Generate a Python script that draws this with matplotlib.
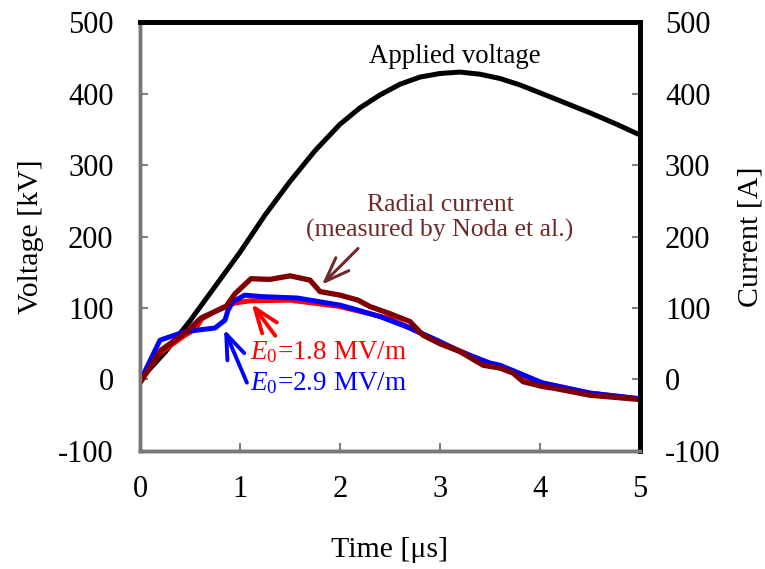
import matplotlib
matplotlib.use("Agg")
import matplotlib.pyplot as plt

plt.rcParams["font.family"] = ["Liberation Serif", "DejaVu Serif"]
plt.rcParams["mathtext.fontset"] = "custom"
plt.rcParams["mathtext.rm"] = "Liberation Serif"
plt.rcParams["mathtext.it"] = "Liberation Serif:italic"
plt.rcParams["axes.unicode_minus"] = False

# Applied voltage [kV]
t_volt = [0, 0.25, 0.5, 0.75, 1.0, 1.25, 1.5, 1.75, 2.0, 2.2, 2.4, 2.6, 2.8, 3.0, 3.2,
          3.4, 3.6, 3.8, 4.0, 4.25, 4.5, 4.75, 5.0]
volt = [0, 38, 82, 130, 178, 230, 277, 320, 357, 380, 398, 413, 423, 428, 430,
        427, 421, 412, 401, 387, 373, 358, 342]

# Radial current measured by Noda et al. [A]
t_meas = [0, 0.21, 0.45, 0.61, 0.78, 0.86, 0.95, 1.11, 1.3, 1.5, 1.7, 1.8, 2.0, 2.18, 2.3, 2.5, 2.7, 2.83,
          3.0, 3.2, 3.43, 3.6, 3.73, 3.83, 4.03, 4.13, 4.5, 4.75, 5.0]
meas = [-5, 41, 65, 86, 97, 102, 120, 141, 140, 145, 139, 123, 118, 111, 102, 92, 81, 62,
        50, 39, 20, 16, 9, -3, -10, -12, -22, -25, -28]

# Simulated current, E0 = 2.9 MV/m
t_e29 = [0, 0.2, 0.45, 0.75, 0.85, 0.88, 0.93, 1.05, 1.21, 1.57, 2.0, 2.18, 2.4, 2.7, 3.0, 3.2, 3.5, 3.6,
         4.03, 4.5, 5.0]
e29 = [-3, 55, 67, 72, 83, 97, 109, 118, 116, 114, 104, 97, 88, 72, 53, 39, 23, 20, -5, -19, -27]

# Simulated current, E0 = 1.8 MV/m
t_e18 = [0, 0.2, 0.45, 0.55, 0.62, 0.75, 0.85, 0.95, 1.1, 1.5, 2.0, 2.5, 3.0, 3.5, 4.0, 4.5, 5.0]
e18 = [-3, 37, 62, 70, 85, 95, 102, 107, 110, 111, 102, 85, 52, 22, -4, -19, -27]

fig = plt.figure(figsize=(7.65, 5.69), dpi=100)
ax = fig.add_axes([0.183, 0.2074, 0.6536, 0.7539])
ax2 = ax.twinx()

ax.plot(t_volt, volt, color="black", lw=3.6, zorder=3, solid_joinstyle="round")
ax2.plot(t_e18, e18, color="#ff0000", lw=3.6, solid_joinstyle="round")
ax2.plot(t_e29, e29, color="#0000ff", lw=3.6, solid_joinstyle="round")
ax2.plot(t_meas, meas, color="#800000", lw=3.8, solid_joinstyle="round")

for a in (ax, ax2):
    a.set_xlim(0, 5)
    a.set_ylim(-100, 500)
    a.set_yticks(range(-100, 501, 100))

ax.set_xticks(range(0, 6))
ax.tick_params(axis="both", direction="in", length=6, width=1.5, color="#808080",
               labelsize=22, pad=19)
ax.tick_params(axis="x", pad=17)
ax2.tick_params(axis="y", direction="in", length=6, width=1.5, color="#808080",
                labelsize=22, pad=18)

for a in (ax, ax2):
    a.spines["left"].set_color("#777777")
    a.spines["left"].set_linewidth(2.5)
    a.spines["bottom"].set_color("#777777")
    a.spines["bottom"].set_linewidth(2.5)
    a.spines["top"].set_color("black")
    a.spines["top"].set_linewidth(3.4)
    a.spines["right"].set_color("black")
    a.spines["right"].set_linewidth(3.4)

ax.set_xlabel("Time [\u03bcs]", fontsize=21.5, labelpad=24)
ax.set_ylabel("Voltage [kV]", fontsize=21.5, labelpad=10)
ax2.set_ylabel("Current [A]", fontsize=21.5, rotation=90, labelpad=12)

ax.text(3.15, 452, "Applied voltage", fontsize=19.3, ha="center", va="center")
ax.text(3.0, 226, "Radial current\n(measured by Noda et al.)", fontsize=18.5, ha="center",
        va="center", color="#6e2a2a", linespacing=1.2)
ax.text(1.1, 38, r"$E_{\mathit{0}}$=1.8 MV/m", fontsize=19.5, color="#ff0000", ha="left", va="center")
ax.text(1.1, -5, r"$E_{\mathit{0}}$=2.9 MV/m", fontsize=19.5, color="#0000ff", ha="left", va="center")

arrow = "->,head_length=0.8,head_width=0.3"
ax.annotate("", xy=(1.8, 130), xytext=(2.2, 186),
            arrowprops=dict(arrowstyle=arrow, color="#6e2a2a", lw=2.2, mutation_scale=22))
ax.annotate("", xy=(1.1, 109), xytext=(1.37, 58),
            arrowprops=dict(arrowstyle=arrow, color="#ff0000", lw=2.8, mutation_scale=22))
ax.annotate("", xy=(0.83, 74), xytext=(1.08, -8),
            arrowprops=dict(arrowstyle=arrow, color="#0000ff", lw=2.8, mutation_scale=22))

fig.savefig("out.png", dpi=100)
